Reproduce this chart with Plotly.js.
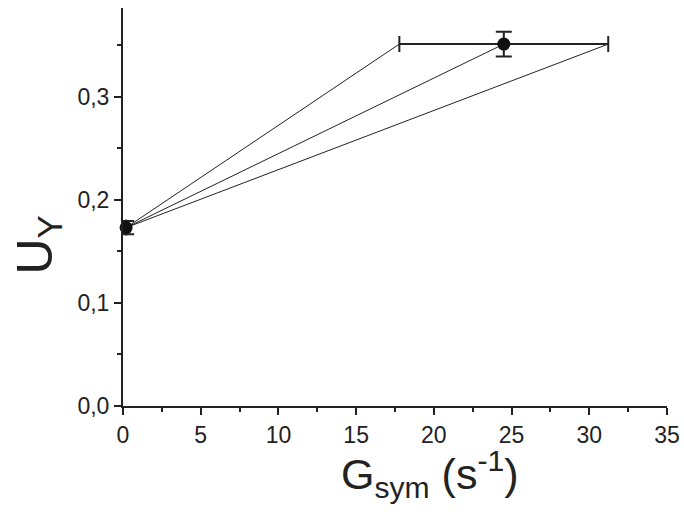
<!DOCTYPE html>
<html>
<head>
<meta charset="utf-8">
<script src="https://cdn.plot.ly/plotly-3.0.1.min.js"></script>
<style>html,body{margin:0;padding:0;background:#fff;}#chart{width:684px;height:512px;}</style>
</head>
<body>
<div id="chart"></div>
<script>
// Data
const gsym = [0.2, 24.5];          // G_sym (s^-1)
const uy = [0.173, 0.351];         // U_Y
const gErr = [0, 6.72];            // x error
const uErr = [0.0065, 0.012];      // y error

// Fan lines from first point to left / centre / right of second point's x error range
const fanEndsX = [gsym[1] - gErr[1], gsym[1], gsym[1] + gErr[1]];

const traces = [];
fanEndsX.forEach(function (xe) {
  traces.push({
    x: [gsym[0], xe], y: [uy[0], uy[1]],
    mode: 'lines', line: {color: '#222', width: 1}, hoverinfo: 'skip', showlegend: false
  });
});
traces.push({
  x: gsym, y: uy, mode: 'markers', showlegend: false, cliponaxis: false,
  marker: {color: '#111', size: 13},
  error_x: {type: 'data', array: gErr, color: '#222', thickness: 2, width: 8},
  error_y: {type: 'data', array: uErr, color: '#222', thickness: 2, width: 8}
});

const fontFam = 'Liberation Sans, Arial, sans-serif';
const layout = {
  width: 684, height: 512,
  margin: {l: 123, r: 17, t: 8, b: 106},
  paper_bgcolor: '#fff', plot_bgcolor: '#fff',
  separators: ', ',
  font: {family: fontFam, color: '#222'},
  showlegend: false,
  xaxis: {
    range: [0, 35], dtick: 5, tick0: 0,
    showgrid: false, zeroline: false,
    showline: true, linecolor: '#222', linewidth: 2,
    ticks: 'outside', ticklen: 7, tickwidth: 2, tickcolor: '#222',
    tickfont: {size: 23, family: fontFam, color: '#222'},
    minor: {dtick: 2.5, ticks: 'outside', ticklen: 4, tickwidth: 2, tickcolor: '#222', showgrid: false}
  },
  yaxis: {
    range: [0, 0.386], dtick: 0.1, tick0: 0, tickformat: '.1f',
    showgrid: false, zeroline: false,
    showline: true, linecolor: '#222', linewidth: 2,
    ticks: 'outside', ticklen: 7, tickwidth: 2, tickcolor: '#222',
    tickfont: {size: 23, family: fontFam, color: '#222'},
    minor: {dtick: 0.05, ticks: 'outside', ticklen: 4, tickwidth: 2, tickcolor: '#222', showgrid: false}
  },
  annotations: [{
    text: 'G<sub>sym</sub> (s<sup>-1</sup>)', xref: 'paper', yref: 'paper',
    x: 0.564, y: -0.17, xanchor: 'center', yanchor: 'middle', showarrow: false,
    font: {size: 43, family: fontFam, color: '#222'}
  }, {
    text: 'U<sub>Y</sub>', xref: 'paper', yref: 'paper', textangle: -90,
    x: -0.155, y: 0.405, xanchor: 'center', yanchor: 'middle', showarrow: false,
    font: {size: 50, family: fontFam, color: '#222'}
  }]
};
Plotly.newPlot('chart', traces, layout, {displayModeBar: false, staticPlot: true});
</script>
</body>
</html>
